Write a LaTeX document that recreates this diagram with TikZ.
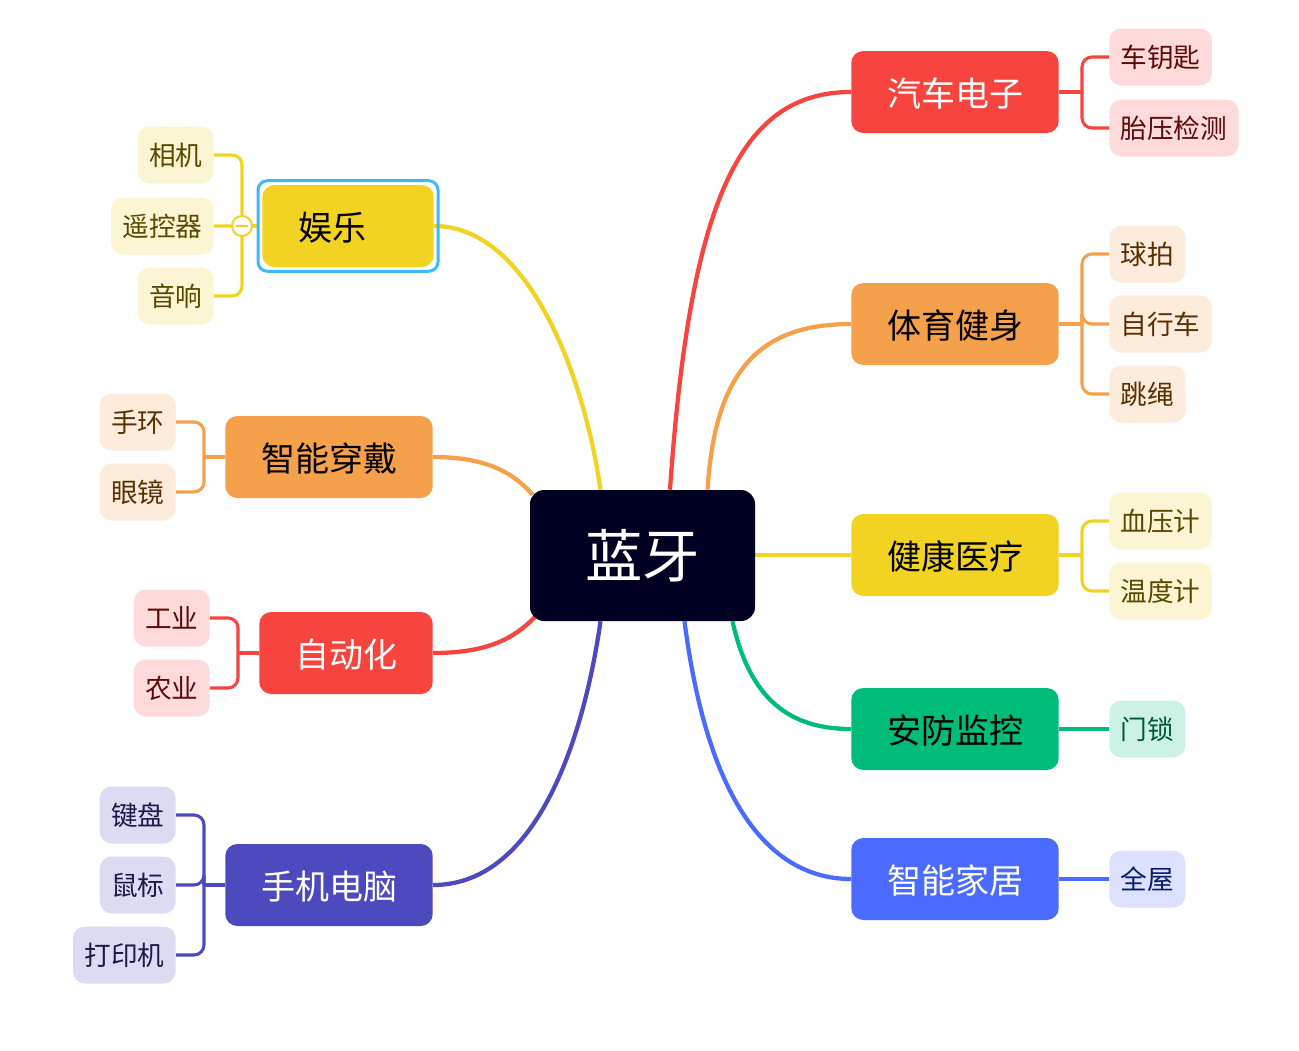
\documentclass[tikz,border=0pt]{standalone}
\usepackage{fontspec}
\setmainfont{Noto Sans CJK SC}
\usetikzlibrary{calc,backgrounds}

\definecolor{hubC}{HTML}{000022}
\definecolor{redC}{HTML}{F8443F}
\definecolor{orangeC}{HTML}{F5A04B}
\definecolor{yellowC}{HTML}{F2D322}
\definecolor{greenC}{HTML}{00BC7B}
\definecolor{blueC}{HTML}{4B6BFF}
\definecolor{indigoC}{HTML}{4D4ABF}
\definecolor{selC}{HTML}{3BB9FB}
\definecolor{redL}{HTML}{FFDADA}
\definecolor{orangeL}{HTML}{FDEBDC}
\definecolor{yellowL}{HTML}{FCF5D3}
\definecolor{greenL}{HTML}{CCF2E5}
\definecolor{blueL}{HTML}{DBE1FF}
\definecolor{indigoL}{HTML}{DBDBF2}
\definecolor{redT}{HTML}{5C0A0A}
\definecolor{orangeT}{HTML}{5A3000}
\definecolor{yellowT}{HTML}{594A00}
\definecolor{greenT}{HTML}{005A3A}
\definecolor{blueT}{HTML}{0A1A6A}
\definecolor{indigoT}{HTML}{1E1A4A}

\tikzset{
  hub/.style={fill=hubC, text=white, rounded corners=10.5pt,
    minimum width=168.75pt, minimum height=98.25pt,
    font=\fontsize{43}{43}\selectfont},
  branch/.style={rounded corners=9pt, minimum height=61.5pt, inner xsep=26.8pt,
    inner ysep=0pt, text height=22pt, text depth=0pt,
    font=\fontsize{25.5}{25.5}\selectfont},
  leaf/.style={rounded corners=9pt, minimum height=42.75pt, inner xsep=8.5pt,
    inner ysep=0pt, text height=16pt, text depth=0pt,
    font=\fontsize{20}{20}\selectfont},
  link/.style={line width=3.2pt},
  brace/.style={line width=2.3pt, rounded corners=7.5pt},
}

\begin{document}
\begin{tikzpicture}[x=0.75pt, y=-0.75pt]
\useasboundingbox (0,0) rectangle (1299,1050);

\node[hub] (lanya) at (642.5,555.5) {蓝牙};

\node[branch, fill=redC, text=white, anchor=west] (qiche) at (851,92) {汽车电子};
\node[branch, fill=orangeC, anchor=west] (tiyu) at (851,324) {体育健身};
\node[branch, fill=yellowC, anchor=west] (jiankang) at (851,555) {健康医疗};
\node[branch, fill=greenC, anchor=west] (anfang) at (851,729) {安防监控};
\node[branch, fill=blueC, text=white, anchor=west] (jiaju) at (851,879) {智能家居};

\node[branch, fill=yellowC, anchor=east, text width=75pt, align=left] (yule) at (434,226) {娱乐};
\node[branch, fill=orangeC, anchor=east] (chuandai) at (433,457) {智能穿戴};
\node[branch, fill=redC, text=white, anchor=east] (zidong) at (433,653) {自动化};
\node[branch, fill=indigoC, text=white, anchor=east] (diannao) at (433,885) {手机电脑};

\draw[selC, line width=2.25pt, rounded corners=7pt]
  ($(yule.north west)+(-4,-4)$) rectangle ($(yule.south east)+(4,4)$);

\node[leaf, fill=redL, text=redT, anchor=west] (yaoshi) at (1109,57) {车钥匙};
\node[leaf, fill=redL, text=redT, anchor=west] (taiya) at (1109,128) {胎压检测};
\node[leaf, fill=orangeL, text=orangeT, anchor=west] (qiupai) at (1109,254) {球拍};
\node[leaf, fill=orangeL, text=orangeT, anchor=west] (zixing) at (1109,324) {自行车};
\node[leaf, fill=orangeL, text=orangeT, anchor=west] (tiaosheng) at (1109,394) {跳绳};
\node[leaf, fill=yellowL, text=yellowT, anchor=west] (xueya) at (1109,521) {血压计};
\node[leaf, fill=yellowL, text=yellowT, anchor=west] (wendu) at (1109,591) {温度计};
\node[leaf, fill=greenL, text=greenT, anchor=west] (mensuo) at (1109,729) {门锁};
\node[leaf, fill=blueL, text=blueT, anchor=west] (quanwu) at (1109,879) {全屋};

\node[leaf, fill=yellowL, text=yellowT, anchor=east] (xiangji) at (214,155) {相机};
\node[leaf, fill=yellowL, text=yellowT, anchor=east] (yaokong) at (214,226) {遥控器};
\node[leaf, fill=yellowL, text=yellowT, anchor=east] (yinxiang) at (214,296) {音响};
\node[leaf, fill=orangeL, text=orangeT, anchor=east] (shouhuan) at (176,422) {手环};
\node[leaf, fill=orangeL, text=orangeT, anchor=east] (yanjing) at (176,492) {眼镜};
\node[leaf, fill=redL, text=redT, anchor=east] (gongye) at (210,618) {工业};
\node[leaf, fill=redL, text=redT, anchor=east] (nongye) at (210,688) {农业};
\node[leaf, fill=indigoL, text=indigoT, anchor=east] (jianpan) at (176,815) {键盘};
\node[leaf, fill=indigoL, text=indigoT, anchor=east] (shubiao) at (176,885) {鼠标};
\node[leaf, fill=indigoL, text=indigoT, anchor=east] (dayin) at (176,955) {打印机};

\coordinate (qicheJ) at (1082,92);
\coordinate (tiyuJ) at (1082,324);
\coordinate (jiankangJ) at (1082,555);
\coordinate (yuleJ) at (242,226);
\coordinate (chuandaiJ) at (204,457);
\coordinate (zidongJ) at (238,653);
\coordinate (diannaoJ) at (204,885);

\begin{pgfonlayer}{background}
\draw[link, redC] ($(lanya.north)+(27.5,0)$) .. controls (690,200) and (740,92) .. (qiche.west);
\draw[link, orangeC] ($(lanya.north)+(65,0)$) .. controls (715,370) and (760,324) .. (tiyu.west);
\draw[link, yellowC] (lanya.east |- jiankang.west) -- (jiankang.west);
\draw[link, greenC] ($(lanya.south)+(90,0)$) .. controls (750,700) and (790,729) .. (anfang.west);
\draw[link, blueC] ($(lanya.south)+(42,0)$) .. controls (710,820) and (780,879) .. (jiaju.west);
\draw[link, yellowC] (yule.east) .. controls (530,226) and (585,380) .. ($(lanya.north)+(-42,0)$);
\draw[link, orangeC] (chuandai.east) .. controls (490,457) and (515,475) .. ($(lanya.north west)+(3,5)$);
\draw[link, redC] (zidong.east) .. controls (490,653) and (515,637) .. ($(lanya.south west)+(5,-4)$);
\draw[link, indigoC] (diannao.east) .. controls (540,885) and (585,730) .. ($(lanya.south)+(-42,0)$);

\draw[brace, redC] (qiche.east) -- (qicheJ);
\foreach \l in {yaoshi,taiya} \draw[brace, redC] (qicheJ) |- (\l.west);
\draw[brace, orangeC] (tiyu.east) -- (tiyuJ);
\foreach \l in {qiupai,zixing,tiaosheng} \draw[brace, orangeC] (tiyuJ) |- (\l.west);
\draw[brace, yellowC] (jiankang.east) -- (jiankangJ);
\foreach \l in {xueya,wendu} \draw[brace, yellowC] (jiankangJ) |- (\l.west);
\draw[brace, greenC] (anfang.east) -- (mensuo.west);
\draw[brace, blueC] (jiaju.east) -- (quanwu.west);

\draw[brace, yellowC] ($(yule.west)+(-4,0)$) -- (yuleJ);
\foreach \l in {xiangji,yaokong,yinxiang} \draw[brace, yellowC] (yuleJ) |- (\l.east);
\draw[brace, orangeC] (chuandai.west) -- (chuandaiJ);
\foreach \l in {shouhuan,yanjing} \draw[brace, orangeC] (chuandaiJ) |- (\l.east);
\draw[brace, redC] (zidong.west) -- (zidongJ);
\foreach \l in {gongye,nongye} \draw[brace, redC] (zidongJ) |- (\l.east);
\draw[brace, indigoC] (diannao.west) -- (diannaoJ);
\foreach \l in {jianpan,shubiao,dayin} \draw[brace, indigoC] (diannaoJ) |- (\l.east);
\end{pgfonlayer}

\node[circle, draw=yellowC, fill=white, line width=1.5pt, minimum size=15pt, inner sep=0pt] (fold) at (yuleJ) {};
\draw[yellowC, line width=1.5pt] ($(fold.center)+(-6,0)$) -- ($(fold.center)+(6,0)$);
\end{tikzpicture}
\end{document}
